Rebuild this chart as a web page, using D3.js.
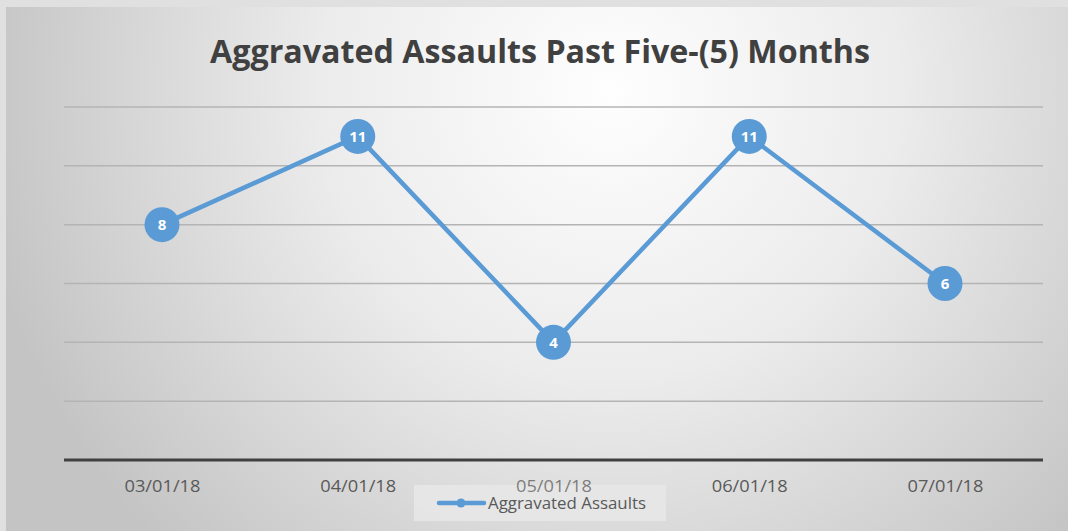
<!DOCTYPE html>
<html>
<head>
<meta charset="utf-8">
<script src="https://cdn.jsdelivr.net/npm/d3@7"></script>
<style>
  body { margin: 0; background: #e0e0e0; }
  svg { display: block; }
</style>
</head>
<body>
<div id="canvas"></div>
<script>
// chart data
var months = ["03/01/18", "04/01/18", "05/01/18", "06/01/18", "07/01/18"];
var assaults = [8, 11, 4, 11, 6];
var gridTicks = [0, 2, 4, 6, 8, 10, 12];
var seriesName = "Aggravated Assaults";
var title = "Aggravated Assaults Past Five-(5) Months";

var width = 1068,
    height = 531,
    blue = "#5b9bd5";

var svg = d3.select("#canvas")
    .append("svg")
    .attr("width", width)
    .attr("height", height);

// radial gradient background
var defs = svg.append("defs");
var grad = defs.append("radialGradient")
    .attr("id", "bg")
    .attr("gradientUnits", "userSpaceOnUse")
    .attr("cx", 610).attr("cy", 90).attr("r", 640);
grad.append("stop").attr("offset", "0%").attr("stop-color", "#fefefe");
grad.append("stop").attr("offset", "45%").attr("stop-color", "#ececec");
grad.append("stop").attr("offset", "100%").attr("stop-color", "#c4c4c4");

svg.append("rect")
    .attr("x", 0).attr("y", 0)
    .attr("width", width).attr("height", height)
    .attr("fill", "#e0e0e0");

svg.append("rect")
    .attr("x", 6).attr("y", 7)
    .attr("width", width - 6).attr("height", height - 7)
    .attr("fill", "url(#bg)");

var x = d3.scalePoint()
    .domain(months)
    .range([162, 945]);

var y = d3.scaleLinear()
    .domain([0, 12])
    .range([460, 107]);

var left = 64, right = 1043;

// gridlines
svg.append("g")
    .selectAll("line")
    .data(gridTicks.filter(function(d) { return d > 0; }))
    .enter()
    .append("line")
    .attr("x1", left).attr("x2", right)
    .attr("y1", function(d) { return y(d); })
    .attr("y2", function(d) { return y(d); })
    .attr("stroke", "#b4b4b4")
    .attr("stroke-width", 1.5);

// legend box, drawn under the axis labels so 05/01/18 shows through
svg.append("rect")
    .attr("x", 414).attr("y", 485)
    .attr("width", 252).attr("height", 36)
    .attr("fill", "#e8e8e8")
    .attr("opacity", 0.85);

// x axis
var xAxis = svg.append("g")
    .attr("transform", "translate(0," + y(0) + ")")
    .call(d3.axisBottom(x).tickSize(0).tickPadding(20));
xAxis.select(".domain").remove();
xAxis.append("line")
    .attr("x1", left).attr("x2", right)
    .attr("y1", 0).attr("y2", 0)
    .attr("stroke", "#404040")
    .attr("stroke-width", 3);
xAxis.selectAll("text")
    .attr("fill", "#595959")
    .attr("textLength", 76)
    .attr("lengthAdjust", "spacingAndGlyphs")
    .style("font-family", "'Open Sans', sans-serif")
    .style("font-size", "17px");
xAxis.selectAll(".tick")
    .filter(function(d) { return d === months[2]; })
    .select("text")
    .attr("fill-opacity", 0.75);

// line
var line = d3.line()
    .x(function(d, i) { return x(months[i]); })
    .y(function(d) { return y(d); });

svg.append("path")
    .datum(assaults)
    .attr("d", line)
    .attr("fill", "none")
    .attr("stroke", blue)
    .attr("stroke-width", 4.5)
    .attr("stroke-linejoin", "round");

var pts = svg.append("g")
    .selectAll("g")
    .data(assaults)
    .enter()
    .append("g")
    .attr("transform", function(d, i) {
        return "translate(" + x(months[i]) + "," + y(d) + ")";
    });

pts.append("circle")
    .attr("r", 17.5)
    .attr("fill", blue);

pts.append("text")
    .attr("text-anchor", "middle")
    .attr("dy", "0.36em")
    .attr("fill", "#ffffff")
    .style("font-family", "'Open Sans', sans-serif")
    .style("font-weight", "bold")
    .style("font-size", "15px")
    .text(function(d) { return d; });

// title
svg.append("text")
    .attr("x", 540)
    .attr("y", 63)
    .attr("text-anchor", "middle")
    .attr("textLength", 660)
    .attr("lengthAdjust", "spacingAndGlyphs")
    .attr("fill", "#404040")
    .style("font-family", "'Open Sans', sans-serif")
    .style("font-weight", "bold")
    .style("font-size", "32px")
    .text(title);

// legend entry
var legend = svg.append("g");
legend.append("line")
    .attr("x1", 439).attr("x2", 484)
    .attr("y1", 503).attr("y2", 503)
    .attr("stroke", blue)
    .attr("stroke-width", 4.5)
    .attr("stroke-linecap", "round");
legend.append("circle")
    .attr("cx", 461).attr("cy", 503)
    .attr("r", 4.5)
    .attr("fill", blue);
legend.append("text")
    .attr("x", 488).attr("y", 509)
    .attr("fill", "#595959")
    .attr("textLength", 158)
    .attr("lengthAdjust", "spacingAndGlyphs")
    .style("font-family", "'Open Sans', sans-serif")
    .style("font-size", "17px")
    .text(seriesName);
</script>
</body>
</html>
